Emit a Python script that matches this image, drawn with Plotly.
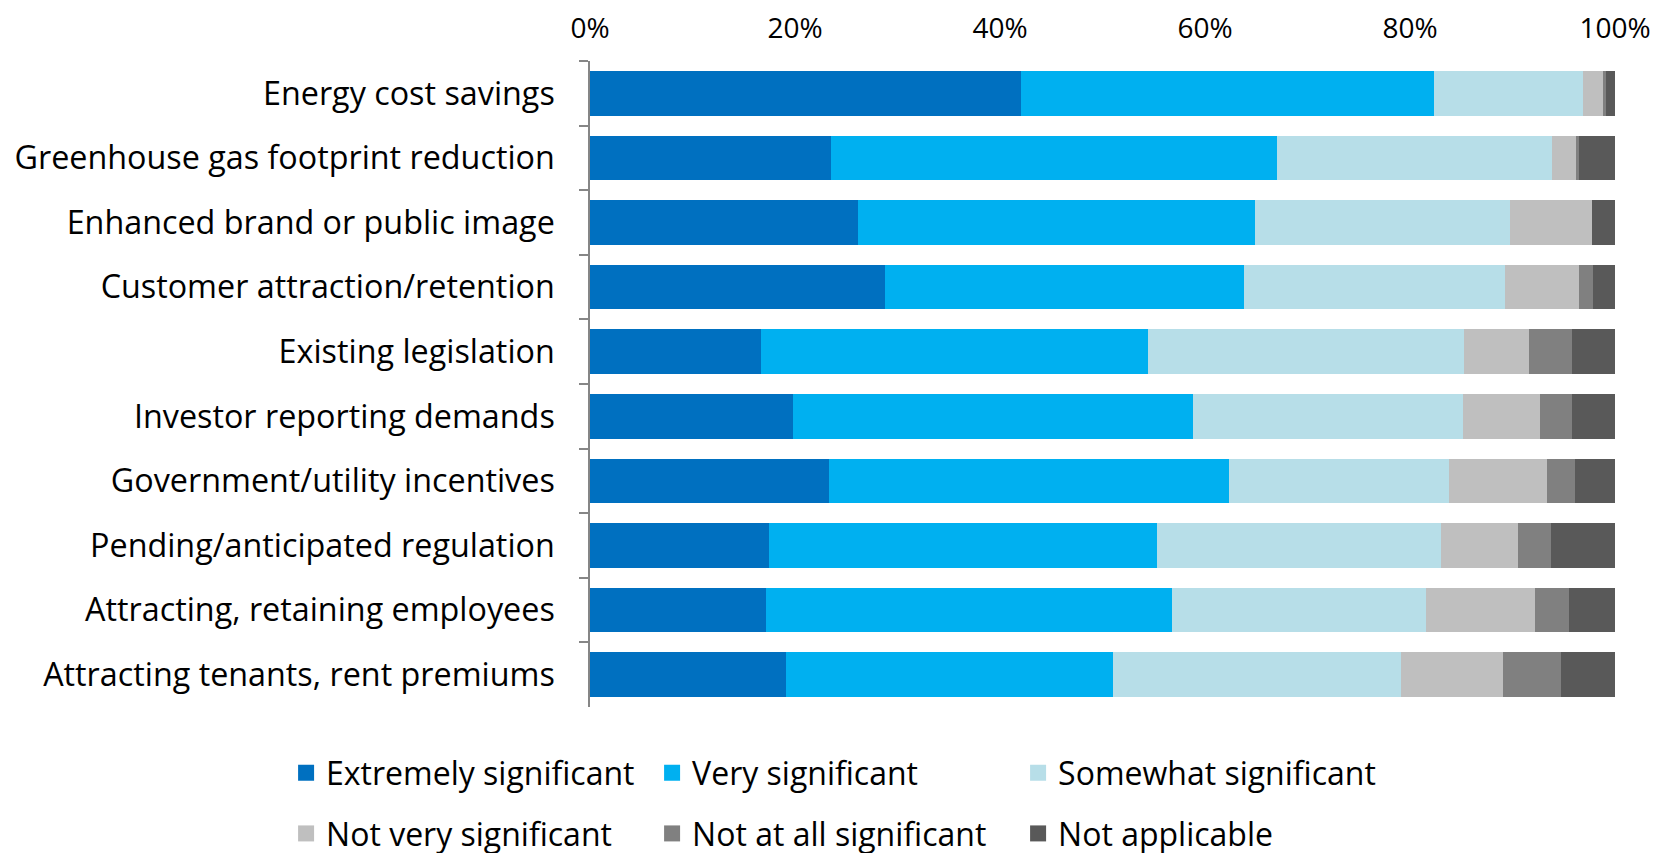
import plotly.graph_objects as go

categories = [
    "Energy cost savings",
    "Greenhouse gas footprint reduction",
    "Enhanced brand or public image",
    "Customer attraction/retention",
    "Existing legislation",
    "Investor reporting demands",
    "Government/utility incentives",
    "Pending/anticipated regulation",
    "Attracting, retaining employees",
    "Attracting tenants, rent premiums",
]

extremely = [42.0, 23.5, 26.1, 28.8, 16.7, 19.8, 23.3, 17.5, 17.2, 19.1]
very = [40.3, 43.5, 38.8, 35.0, 37.7, 39.0, 39.0, 37.8, 39.6, 31.9]
somewhat = [14.6, 26.9, 24.9, 25.5, 30.9, 26.4, 21.5, 27.7, 24.8, 28.1]
not_very = [1.9, 2.3, 8.0, 7.2, 6.3, 7.5, 9.6, 7.5, 10.6, 10.0]
not_at_all = [0.3, 0.3, 0.0, 1.4, 4.2, 3.1, 2.7, 3.3, 3.3, 5.6]
not_applicable = [0.9, 3.5, 2.2, 2.1, 4.2, 4.2, 3.9, 6.2, 4.5, 5.3]

series_names = ["Extremely significant", "Very significant", "Somewhat significant",
                "Not very significant", "Not at all significant", "Not applicable"]
series_values = [extremely, very, somewhat, not_very, not_at_all, not_applicable]
series_colors = ["#0070C0", "#00B0F0", "#B7DEE8", "#BFBFBF", "#808080", "#595959"]

tick_vals = [0, 20, 40, 60, 80, 100]
tick_text = ["0%", "20%", "40%", "60%", "80%", "100%"]

FONT = "Open Sans"

fig = go.Figure()
for name, vals, color in zip(series_names, series_values, series_colors):
    fig.add_trace(go.Bar(
        y=categories, x=vals, name=name, orientation="h",
        marker=dict(color=color, line=dict(width=0)),
        showlegend=False,
    ))

# legend entries (square swatches), split over two legend rows
for i, (name, color) in enumerate(zip(series_names, series_colors)):
    fig.add_trace(go.Scatter(
        x=[None], y=[None], mode="markers", name=name,
        marker=dict(symbol="square", size=16, color=color),
        legend="legend" if i < 3 else "legend2",
        hoverinfo="skip",
    ))

legend_common = dict(
    orientation="h", xanchor="left", yanchor="middle",
    entrywidth=321, entrywidthmode="pixels",
    font=dict(family=FONT, size=32, color="#000000"),
    itemsizing="trace", traceorder="normal",
    bgcolor="rgba(0,0,0,0)",
)

fig.update_layout(
    barmode="stack",
    bargap=0.31,
    width=1663, height=853,
    margin=dict(l=582, r=56, t=53, b=154, autoexpand=False),
    plot_bgcolor="white", paper_bgcolor="white",
    font=dict(family=FONT, size=32, color="#000000"),
    legend=dict(x=-0.2965, y=-0.102, **legend_common),
    legend2=dict(x=-0.2965, y=-0.196, **legend_common),
    xaxis=dict(
        side="top", range=[0, 100], tickvals=tick_vals, ticktext=tick_text,
        showgrid=False, zeroline=False, showline=False, ticks="",
        ticklabelstandoff=16, automargin=False,
        tickfont=dict(family=FONT, size=28, color="#000000"),
        fixedrange=True,
    ),
    yaxis=dict(
        autorange="reversed", showgrid=False, zeroline=False,
        showline=True, linecolor="#868686", linewidth=1.5,
        ticks="outside", ticklen=9, tickcolor="#868686", tickwidth=1.5,
        tickson="boundaries", ticklabelstandoff=27, automargin=False,
        tickfont=dict(family=FONT, size=32.3, color="#000000"),
        fixedrange=True,
    ),
)

fig.write_html("out.html")
